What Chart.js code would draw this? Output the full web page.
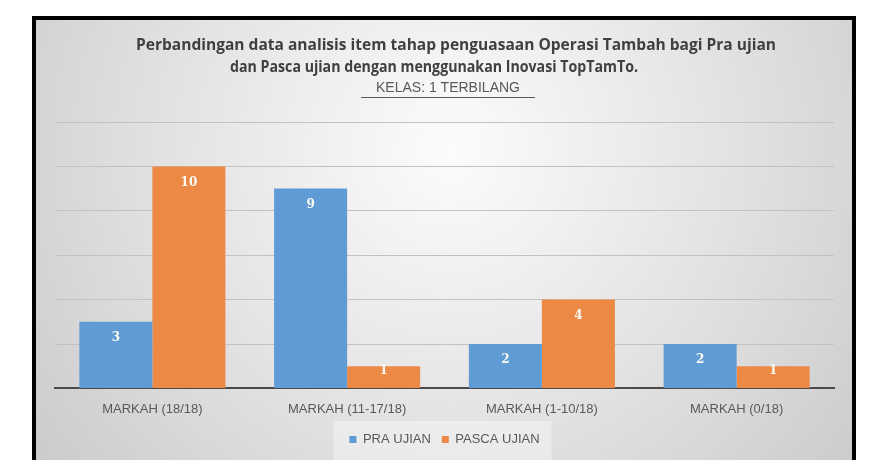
<!DOCTYPE html>
<html>
<head>
<meta charset="utf-8">
<script src="https://cdn.jsdelivr.net/npm/chart.js@4"></script>
<style>
  html, body { margin: 0; padding: 0; background: #fff; }
  #wrap { width: 876px; height: 460px; }
</style>
</head>
<body>
<div id="wrap"><canvas id="c" width="876" height="460"></canvas></div>
<script>
// Data
const CATEGORIES = ['MARKAH (18/18)', 'MARKAH (11-17/18)', 'MARKAH (1-10/18)', 'MARKAH (0/18)'];
const PRA_UJIAN = [3, 9, 2, 2];
const PASCA_UJIAN = [10, 1, 4, 1];
const SERIES = ['PRA UJIAN', 'PASCA UJIAN'];
const TITLE = [
  'Perbandingan data analisis item tahap penguasaan Operasi Tambah bagi Pra ujian',
  'dan Pasca ujian dengan menggunakan Inovasi TopTamTo.',
];
const SUBTITLE = 'KELAS: 1 TERBILANG';

const COL = { blu: '#5f9bd5', org: '#ec8945', txt: '#595959', grid: '#c2c2c2', axis: '#4a4a4a' };

// gray gradient panel + black frame, like the pasted Excel picture
const panel = {
  id: 'panel',
  beforeDraw(chart) {
    const ctx = chart.ctx;
    ctx.save();
    ctx.fillStyle = '#fff';
    ctx.fillRect(0, 0, chart.width, chart.height);
    const g = ctx.createRadialGradient(450, 150, 10, 450, 150, 520);
    g.addColorStop(0, '#fbfbfb');
    g.addColorStop(0.5, '#e4e4e4');
    g.addColorStop(1, '#cbcbcb');
    ctx.fillStyle = g;
    ctx.fillRect(34, 18, 820, 460);
    // lighter box behind the legend
    const lg = chart.legend;
    if (lg && lg.legendHitBoxes && lg.legendHitBoxes.length) {
      const hb = lg.legendHitBoxes;
      const x0 = hb[0].left - 16, x1 = hb[hb.length - 1].left + hb[hb.length - 1].width + 12;
      ctx.fillStyle = 'rgba(255,255,255,0.35)';
      ctx.fillRect(x0, hb[0].top - 12, x1 - x0, 60);
    }
    ctx.strokeStyle = '#000';
    ctx.lineWidth = 4;
    ctx.strokeRect(34, 18, 820, 470);
    ctx.restore();
  }
};

// title block, drawn with squeeze to mimic the narrow Calibri look
const titleBlock = {
  id: 'titleBlock',
  afterDraw(chart) {
    const ctx = chart.ctx;
    ctx.save();
    ctx.textAlign = 'center';
    ctx.textBaseline = 'middle';
    ctx.fillStyle = '#404040';
    ctx.font = 'bold 16px "Open Sans", sans-serif';
    ctx.fillText(TITLE[0], 456, 45, 640);
    ctx.fillText(TITLE[1], 434, 67, 408);
    ctx.fillStyle = COL.txt;
    ctx.font = '14px "Liberation Sans", sans-serif';
    ctx.fillText(SUBTITLE, 448, 88, 174);
    ctx.strokeStyle = COL.txt;
    ctx.lineWidth = 1;
    ctx.beginPath();
    ctx.moveTo(361, 97.5);
    ctx.lineTo(535, 97.5);
    ctx.stroke();
    ctx.restore();
  }
};

// value labels inside the top of each bar (Excel "inside end")
const barLabels = {
  id: 'barLabels',
  afterDatasetsDraw(chart) {
    const ctx = chart.ctx;
    ctx.save();
    ctx.fillStyle = '#fbfbf4';
    ctx.font = 'bold 12px "DejaVu Serif", serif';
    ctx.textAlign = 'center';
    ctx.textBaseline = 'middle';
    chart.data.datasets.forEach((ds, i) => {
      chart.getDatasetMeta(i).data.forEach((bar, j) => {
        const y = Math.min(bar.y + 16, bar.base - 17);
        ctx.fillText(ds.data[j], bar.x, y);
      });
    });
    ctx.restore();
  }
};

new Chart(document.getElementById('c'), {
  type: 'bar',
  data: {
    labels: CATEGORIES,
    datasets: [
      { label: SERIES[0], data: PRA_UJIAN, backgroundColor: COL.blu },
      { label: SERIES[1], data: PASCA_UJIAN, backgroundColor: COL.org },
    ],
  },
  options: {
    responsive: false,
    animation: false,
    devicePixelRatio: 1,
    layout: { padding: { left: 55, right: 42, top: 122, bottom: 4 } },
    datasets: { bar: { categoryPercentage: 0.75, barPercentage: 1 } },
    plugins: {
      legend: {
        position: 'bottom',
        labels: {
          boxWidth: 7, boxHeight: 7, padding: 11,
          color: COL.txt, font: { family: '"Liberation Sans", sans-serif', size: 13 },
        },
      },
      tooltip: { enabled: false },
      title: { display: false },
    },
    scales: {
      x: {
        grid: { display: false },
        border: { display: true, color: COL.axis, width: 2 },
        ticks: { color: COL.txt, padding: 5, font: { family: '"Liberation Sans", sans-serif', size: 13 } },
      },
      y: {
        min: 0, max: 12,
        ticks: { display: false, stepSize: 2 },
        grid: { color: COL.grid, drawTicks: false },
        border: { display: false },
      },
    },
  },
  plugins: [panel, titleBlock, barLabels],
});
</script>
</body>
</html>
